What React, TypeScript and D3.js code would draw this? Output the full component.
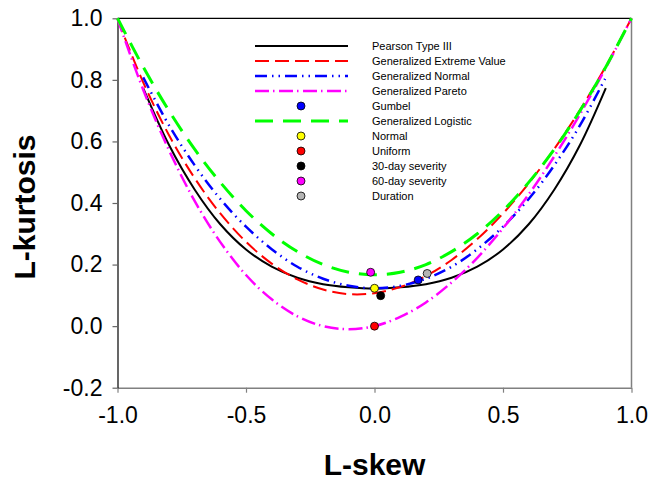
import React, { useEffect, useRef } from "react";
import * as d3 from "d3";

// L-moment ratio diagram: theoretical curves
const tau3Full = [-1.0, -0.9, -0.8, -0.7, -0.6, -0.5, -0.4, -0.3, -0.2, -0.1, 0.0, 0.1, 0.2, 0.3, 0.4, 0.5, 0.6, 0.7, 0.8, 0.9, 1.0];
const tau3Inner = [-0.9, -0.8, -0.7, -0.6, -0.5, -0.4, -0.3, -0.2, -0.1, 0.0, 0.1, 0.2, 0.3, 0.4, 0.5, 0.6, 0.7, 0.8, 0.9];

const pe3Tau4 = [0.773, 0.589, 0.444, 0.331, 0.249, 0.193, 0.157, 0.136, 0.126, 0.122, 0.126, 0.136, 0.157, 0.193, 0.249, 0.331, 0.444, 0.589, 0.773];
const gevTau4 = [0.997, 0.792, 0.621, 0.481, 0.366, 0.274, 0.203, 0.152, 0.119, 0.104, 0.107, 0.127, 0.163, 0.215, 0.283, 0.366, 0.464, 0.576, 0.703, 0.844, 1.0];
const gnoTau4 = [0.808, 0.653, 0.523, 0.413, 0.323, 0.25, 0.193, 0.154, 0.131, 0.123, 0.131, 0.154, 0.193, 0.25, 0.323, 0.413, 0.523, 0.653, 0.808];
const gpaTau4 = [0.999, 0.768, 0.572, 0.407, 0.273, 0.166, 0.087, 0.032, 0.0, -0.010, 0.0, 0.030, 0.077, 0.142, 0.222, 0.318, 0.428, 0.552, 0.689, 0.839, 1.0];
const gloTau4 = [1.0, 0.842, 0.7, 0.575, 0.467, 0.375, 0.3, 0.242, 0.2, 0.175, 0.167, 0.175, 0.2, 0.242, 0.3, 0.375, 0.467, 0.575, 0.7, 0.842, 1.0];

const pointNames = ["Gumbel", "Normal", "Uniform", "30-day severity", "60-day severity", "Duration"];
const pointTau3 = [0.17, 0.0, 0.0, 0.024, -0.015, 0.205];
const pointTau4 = [0.150, 0.123, 0.0, 0.099, 0.175, 0.171];
const pointColors = ["#0000ff", "#ffff00", "#ff0000", "#000000", "#ff00ff", "#b4b4b4"];

const xTicks = [-1.0, -0.5, 0.0, 0.5, 1.0];
const yTicks = [-0.2, 0.0, 0.2, 0.4, 0.6, 0.8, 1.0];

const curves = [
  { name: "Pearson Type III", x: tau3Inner, y: pe3Tau4, color: "#000000", dash: null, width: 2 },
  { name: "Generalized Extreme Value", x: tau3Full, y: gevTau4, color: "#ff0000", dash: "14,6", width: 2 },
  { name: "Generalized Normal", x: tau3Inner, y: gnoTau4, color: "#0000ff", dash: "12,5,1.5,5,1.5,5", width: 2.5 },
  { name: "Generalized Pareto", x: tau3Full, y: gpaTau4, color: "#ff00ff", dash: "14,4,1.5,4.5", width: 2.5 },
  { name: "Generalized Logistic", x: tau3Full, y: gloTau4, color: "#00ff00", dash: "18,10", width: 3 },
];

export default function App() {
  const svgRef = useRef<SVGSVGElement>(null);

  useEffect(() => {
    const plot = { left: 117.5, right: 631.5, top: 18.3, bottom: 387.7 };
    const font = "Arial, 'Liberation Sans', sans-serif";

    const svg = d3.select(svgRef.current);
    svg.selectAll("*").remove();

    const xScale = d3.scaleLinear().domain([-1, 1]).range([plot.left, plot.right]);
    const yScale = d3.scaleLinear().domain([-0.2, 1.0]).range([plot.bottom, plot.top]);

    // frame
    svg.append("line")
      .attr("x1", plot.left).attr("x2", plot.right)
      .attr("y1", plot.top).attr("y2", plot.top)
      .attr("stroke", "#000").attr("stroke-width", 1.2);
    svg.append("line")
      .attr("x1", plot.right).attr("x2", plot.right)
      .attr("y1", plot.top).attr("y2", plot.bottom)
      .attr("stroke", "#808080").attr("stroke-width", 1.5);

    const fmt = (d: any) => (+d).toFixed(1);

    const xAxis = svg.append("g")
      .attr("transform", `translate(0,${plot.bottom})`)
      .call(d3.axisBottom(xScale).tickValues(xTicks).tickFormat(fmt).tickSize(5).tickSizeOuter(0).tickPadding(14));
    xAxis.select(".domain").attr("stroke", "#808080").attr("stroke-width", 1.5);
    xAxis.selectAll(".tick line").attr("stroke", "#808080").attr("stroke-width", 1.2);
    xAxis.selectAll("text")
      .attr("font-family", font)
      .attr("font-size", 23)
      .attr("fill", "#000");

    const yAxis = svg.append("g")
      .attr("transform", `translate(${plot.left},0)`)
      .call(d3.axisLeft(yScale).tickValues(yTicks).tickFormat(fmt).tickSize(5).tickSizeOuter(0).tickPadding(10));
    yAxis.select(".domain").attr("stroke", "#000").attr("stroke-width", 1.2);
    yAxis.selectAll(".tick line").attr("stroke", "#666").attr("stroke-width", 1.2);
    yAxis.selectAll("text")
      .attr("font-family", font)
      .attr("font-size", 23)
      .attr("fill", "#000");

    // axis titles
    svg.append("text")
      .attr("x", (plot.left + plot.right) / 2)
      .attr("y", 475)
      .attr("text-anchor", "middle")
      .attr("font-family", font)
      .attr("font-weight", "bold")
      .attr("font-size", 30)
      .text("L-skew");

    svg.append("text")
      .attr("transform", `translate(35,207) rotate(-90)`)
      .attr("text-anchor", "middle")
      .attr("font-family", font)
      .attr("font-weight", "bold")
      .attr("font-size", 30)
      .text("L-kurtosis");

    // curves
    curves.forEach(c => {
      const pts = c.x.map((v, i) => [xScale(v), yScale(c.y[i])] as [number, number]);
      svg.append("path")
        .attr("d", d3.line().curve(d3.curveCatmullRom)(pts))
        .attr("fill", "none")
        .attr("stroke", c.color)
        .attr("stroke-width", c.width)
        .attr("stroke-dasharray", c.dash);
    });

    // sample points
    svg.selectAll("circle.pt")
      .data(pointNames)
      .join("circle")
      .attr("class", "pt")
      .attr("cx", (d, i) => xScale(pointTau3[i]))
      .attr("cy", (d, i) => yScale(pointTau4[i]))
      .attr("r", 4)
      .attr("fill", (d, i) => pointColors[i])
      .attr("stroke", "#000")
      .attr("stroke-width", 0.8);

    // legend
    const legendItems = [
      { label: curves[0].name, curve: curves[0] },
      { label: curves[1].name, curve: curves[1] },
      { label: curves[2].name, curve: curves[2] },
      { label: curves[3].name, curve: curves[3] },
      { label: pointNames[0], color: pointColors[0] },
      { label: curves[4].name, curve: curves[4] },
      { label: pointNames[1], color: pointColors[1] },
      { label: pointNames[2], color: pointColors[2] },
      { label: pointNames[3], color: pointColors[3] },
      { label: pointNames[4], color: pointColors[4] },
      { label: pointNames[5], color: pointColors[5] },
    ];
    const legend = svg.append("g");
    legendItems.forEach((item: any, i) => {
      const y = 46 + i * 15;
      if (item.curve) {
        legend.append("line")
          .attr("x1", 255).attr("x2", 348)
          .attr("y1", y).attr("y2", y)
          .attr("stroke", item.curve.color)
          .attr("stroke-width", item.curve.width)
          .attr("stroke-dasharray", item.curve.dash);
      } else {
        legend.append("circle")
          .attr("cx", 301).attr("cy", y).attr("r", 4)
          .attr("fill", item.color)
          .attr("stroke", "#000")
          .attr("stroke-width", 0.8);
      }
      legend.append("text")
        .attr("x", 372).attr("y", y + 4)
        .attr("font-family", font)
        .attr("font-size", 11)
        .text(item.label);
    });
  }, []);

  return (
    <svg
      ref={svgRef}
      width={652}
      height={488}
      style={{ position: "absolute", left: 0, top: 0, background: "#fff" }}
    />
  );
}
